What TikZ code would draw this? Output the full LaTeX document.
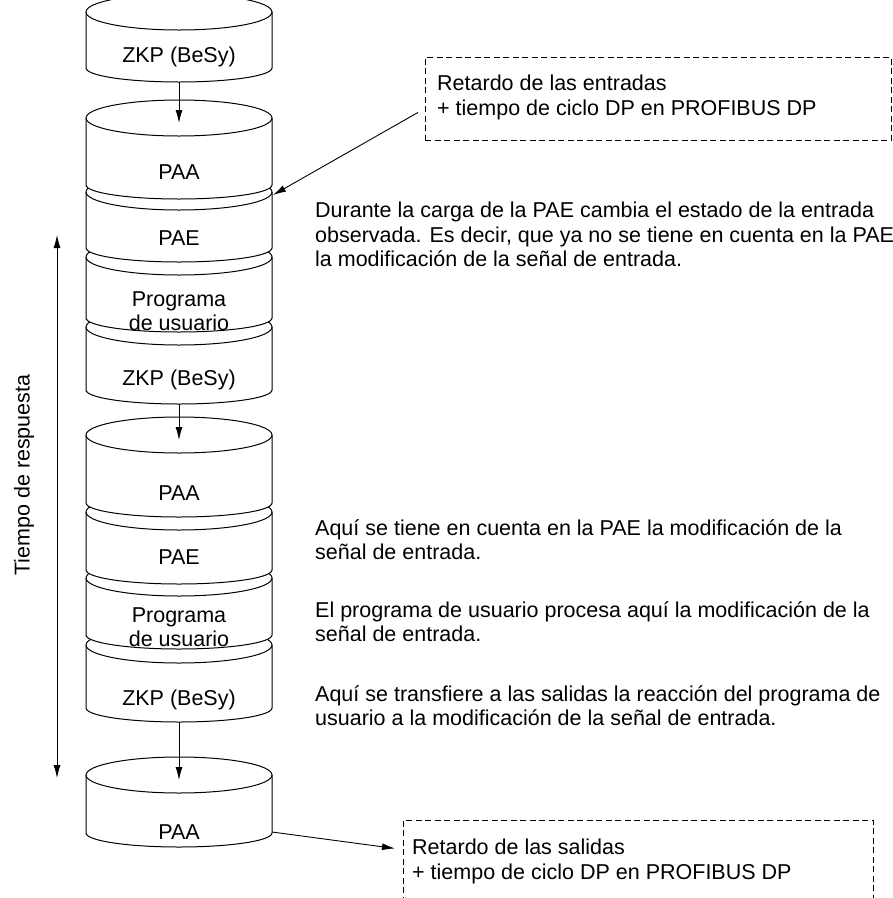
\documentclass[tikz,border=0pt]{standalone}
\usepackage{fontspec}
\setmainfont{Liberation Sans}
\usetikzlibrary{arrows.meta}
\tikzset{
  drum/.style={line width=1pt,fill=white},
  arr/.style={line width=0.9pt,-{Latex[length=13pt,width=7pt]}},
  dashbox/.style={draw,line width=0.9pt,dash pattern=on 6pt off 3.5pt,inner sep=0pt,anchor=north west},
  note/.style={anchor=north west,align=left,inner sep=0pt},
  lab/.style={align=center,inner sep=0pt}
}

\begin{document}
\begin{tikzpicture}[x=1pt,y=-1pt,font=\fontsize{21.5}{24.5}\selectfont]
  \useasboundingbox (0,0) rectangle (893,898);
  % drums, lowest first so the upper ones hide the back rims
  \foreach \yt/\yb in {775/833,645/708,578/635,512/570,435/503,327/390,257/318,192/248,118/185,12/68} {
    \filldraw[drum] (86,\yt) -- (86,\yb) arc[start angle=180,end angle=0,x radius=93,y radius=14]
      -- (272,\yt) arc[start angle=0,end angle=-180,x radius=93,y radius=18] -- cycle;
    \draw[line width=1pt] (86,\yt) arc[start angle=180,end angle=0,x radius=93,y radius=18];
  }
  % drum texts
  \node[lab] (zkp1) at (179,57) {ZKP (BeSy)};
  \node[lab] (paa1) at (179,172) {PAA};
  \node[lab] (pae1) at (179,238) {PAE};
  \node[lab] (prog1) at (179,311) {Programa\\de usuario};
  \node[lab] (zkp2) at (179,380) {ZKP (BeSy)};
  \node[lab] (paa2) at (179,493) {PAA};
  \node[lab] (pae2) at (179,557) {PAE};
  \node[lab] (prog2) at (179,627) {Programa\\de usuario};
  \node[lab] (zkp3) at (179,700) {ZKP (BeSy)};
  \node[lab] (paa3) at (179,832) {PAA};
  % steps between the cycles
  \coordinate (zkp1b) at (179,82);
  \coordinate (paa1t) at (179,123);
  \coordinate (zkp2b) at (179,404);
  \coordinate (paa2t) at (179,440);
  \coordinate (zkp3b) at (179,722);
  \coordinate (paa3t) at (179,780);
  \draw[arr] (zkp1b) -- (paa1t);
  \draw[arr] (zkp2b) -- (paa2t);
  \draw[arr] (zkp3b) -- (paa3t);
  % response time
  \coordinate (tr0) at (57,235);
  \coordinate (tr1) at (57,778);
  \draw[arr,{Latex[length=13pt,width=7pt]}-{Latex[length=13pt,width=7pt]}] (tr0) -- (tr1);
  \node[rotate=90] (tresp) at (24,475) {Tiempo de respuesta};
  % notes
  \node[note] (n1) at (315,202) {Durante la carga de la PAE cambia el estado de la entrada\\observada. Es decir, que ya no se tiene en cuenta en la PAE\\la modificación de la señal de entrada.};
  \node[note] (n2) at (315,519) {Aquí se tiene en cuenta en la PAE la modificación de la\\señal de entrada.};
  \node[note] (n3) at (315,601) {El programa de usuario procesa aquí la modificación de la\\señal de entrada.};
  \node[note] (n4) at (315,685) {Aquí se transfiere a las salidas la reacción del programa de\\usuario a la modificación de la señal de entrada.};
  % delay boxes
  \node[dashbox,minimum width=466,minimum height=83] (inbox) at (425,57) {};
  \node[note] (intxt) at (437,75) {Retardo de las entradas\\+ tiempo de ciclo DP en PROFIBUS DP};
  \node[dashbox,minimum width=470,minimum height=95] (outbox) at (403,820) {};
  \node[note] (outtxt) at (412,839) {Retardo de las salidas\\+ tiempo de ciclo DP en PROFIBUS DP};
  \coordinate (paa1e) at (273,195);
  \coordinate (paa3e) at (272,832);
  \draw[arr] ([xshift=-7pt,yshift=-13.5pt]inbox.west) -- (paa1e);
  \draw[arr] (paa3e) -- ([xshift=-8pt,yshift=19.5pt]outbox.west);
\end{tikzpicture}
\end{document}
